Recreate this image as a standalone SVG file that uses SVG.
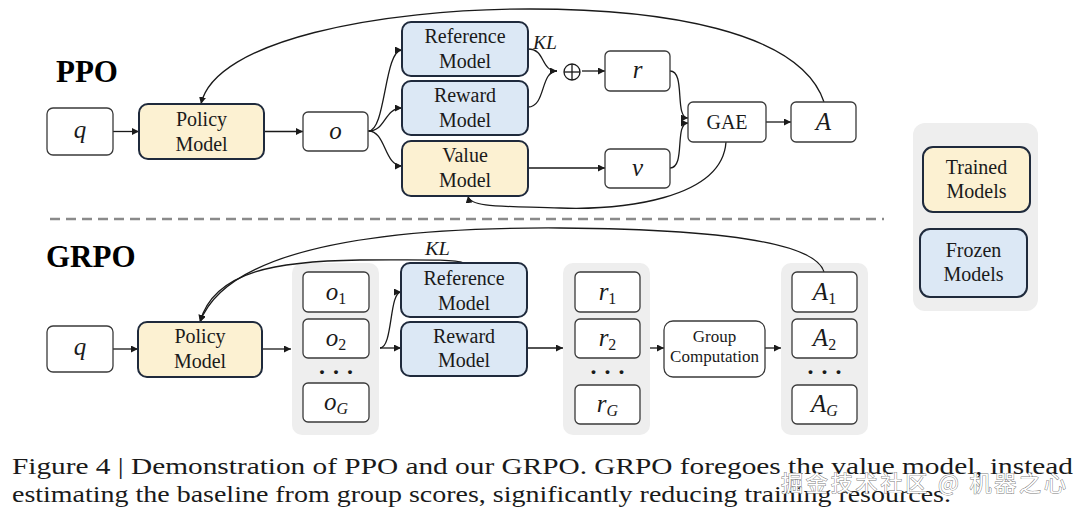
<svg xmlns="http://www.w3.org/2000/svg" width="1080" height="517" viewBox="0 0 1080 517">
<defs>
<marker id="arr" viewBox="0 0 10 10" refX="10" refY="5" markerWidth="7" markerHeight="7" orient="auto" markerUnits="userSpaceOnUse"><path d="M0,0 L10,5 L0,10 z" fill="#1a1a1a"/></marker>
<style>
.lbl{font-family:"Liberation Serif","Times New Roman",serif;font-size:20px;fill:#1a1a1a;text-anchor:middle}
.small{font-size:17px}
.math{font-family:"Liberation Serif","Times New Roman",serif;font-style:italic;font-size:25px;fill:#1a1a1a;text-anchor:middle}
.kl{font-family:"Liberation Serif","Times New Roman",serif;font-style:italic;font-size:18px;fill:#1a1a1a}
.sub{font-size:16px;font-style:normal}
.subi{font-size:16px;font-style:italic}
.dots{font-family:"Liberation Serif",serif;font-weight:bold;font-size:24px;fill:#1a1a1a;text-anchor:middle}
.trained{fill:#fcf1d2;stroke:#1f2a3c;stroke-width:2}
.frozen{fill:#dce8f5;stroke:#1f2a3c;stroke-width:2}
.plain{fill:#fff;stroke:#3a3a3a;stroke-width:1.3}
.panel{fill:#eeeeee}
.conn{fill:none;stroke:#1a1a1a;stroke-width:1.3}
.arrow{marker-end:url(#arr)}
.title{font-family:"Liberation Serif","Times New Roman",serif;font-weight:bold;font-size:31px;fill:#000}
.cap{font-family:"Liberation Serif","Times New Roman",serif;font-size:24px;fill:#1a1a1a}
.wm{font-family:"Noto Sans CJK SC","DejaVu Sans",sans-serif;font-size:22px;fill:#ffffff;stroke:#7a7a7a;stroke-width:0.9;paint-order:stroke}
</style>
</defs>
<rect x="0" y="0" width="1080" height="517" fill="#ffffff"/>

<!-- titles -->
<text class="title" x="56" y="82">PPO</text>
<text class="title" x="46" y="267">GRPO</text>

<!-- divider -->
<line x1="50" y1="219" x2="884" y2="219" stroke="#8a8a8a" stroke-width="2.6" stroke-dasharray="10 6"/>

<!-- panels -->
<g id="ppo-legend-panel"><rect class="panel" x="913" y="123" width="125" height="188" rx="12" fill="#efefef"/></g>
<g id="grpo-o-panel"><rect class="panel" x="292" y="263" width="87" height="172" rx="10"/></g>
<g id="grpo-r-panel"><rect class="panel" x="563" y="263" width="87" height="172" rx="10"/></g>
<g id="grpo-a-panel"><rect class="panel" x="781" y="263" width="87" height="172" rx="10"/></g>

<!-- connectors -->
<g id="connectors">
  <!-- PPO -->
  <path class="conn arrow" d="M113,131.5 L139,131.5"/>
  <path class="conn arrow" d="M264.5,131.5 L303,131.5"/>
  <path class="conn arrow" d="M368.5,131 C386,131 384,50 402,50"/>
  <path class="conn arrow" d="M368.5,131 C386,131 384,108 402,108"/>
  <path class="conn arrow" d="M368.5,131 C386,131 384,166 402,166"/>
  <path class="conn arrow" d="M528,49 C546,49 540,71 557,71"/>
  <path class="conn" d="M528,107 C546,107 540,71 557,71"/>
  <path class="conn arrow" d="M582,71 L605,71"/>
  <path class="conn arrow" d="M670,71 C686,71 674,118 688,118"/>
  <path class="conn arrow" d="M670,168 C686,168 674,123 688,123"/>
  <path class="conn arrow" d="M528,168 L605,168"/>
  <path class="conn arrow" d="M766,122 L791,122"/>
  <path class="conn arrow" d="M824,102 C800,30 660,9 530,9 C380,9 215,40 201,104"/>
  <path class="conn arrow" d="M726,142 C722,200 620,210 560,208 C505,206 470,208 468,196"/>
  <!-- GRPO -->
  <path class="conn arrow" d="M113,349 L138,349"/>
  <path class="conn arrow" d="M262,349 L291,349"/>
  <path class="conn arrow" d="M380,348 L401,348"/>
  <path class="conn arrow" d="M380,348 C393,348 389,292 401,292"/>
  <path class="conn arrow" d="M527,348 L563,348"/>
  <path class="conn arrow" d="M650,348 L664,348"/>
  <path class="conn arrow" d="M765,348 L781,348"/>
  <path class="conn arrow" d="M463,263 C456,259 420,260 360,260 C280,261 214,270 200,322"/>
  <path class="conn arrow" d="M824,272 C815,240 700,229 560,228 C380,227 228,248 200,322"/>
</g>

<!-- PPO nodes -->
<g id="ppo-q"><rect class="plain" x="47" y="108" width="66" height="47" rx="6"/><text class="math" x="80" y="138">q</text></g>
<g id="ppo-policy"><rect class="trained" x="139" y="104" width="125" height="55" rx="9"/><text class="lbl" x="201.5" y="126">Policy</text><text class="lbl" x="201.5" y="151">Model</text></g>
<g id="ppo-o"><rect class="plain" x="303" y="112" width="65" height="39" rx="5"/><text class="math" x="335.5" y="139">o</text></g>
<g id="ppo-reference"><rect class="frozen" x="402" y="22" width="126" height="54" rx="9"/><text class="lbl" x="465" y="43">Reference</text><text class="lbl" x="465" y="68">Model</text></g>
<g id="ppo-reward"><rect class="frozen" x="402" y="81" width="126" height="54" rx="9"/><text class="lbl" x="465" y="102">Reward</text><text class="lbl" x="465" y="127">Model</text></g>
<g id="ppo-value"><rect class="trained" x="402" y="141" width="126" height="55" rx="9"/><text class="lbl" x="465" y="162">Value</text><text class="lbl" x="465" y="187">Model</text></g>
<g id="ppo-kl"><text class="kl" x="533" y="49" textLength="24" lengthAdjust="spacingAndGlyphs">KL</text></g>
<g id="ppo-plus"><circle cx="572" cy="72" r="8" fill="#fff" stroke="#1a1a1a" stroke-width="1.3"/><line x1="564" y1="72" x2="580" y2="72" stroke="#1a1a1a" stroke-width="1.3"/><line x1="572" y1="64" x2="572" y2="80" stroke="#1a1a1a" stroke-width="1.3"/></g>
<g id="ppo-r"><rect class="plain" x="605" y="51" width="65" height="40" rx="5"/><text class="math" x="637.5" y="78">r</text></g>
<g id="ppo-v"><rect class="plain" x="605" y="149" width="65" height="39" rx="5"/><text class="math" x="637.5" y="176">v</text></g>
<g id="ppo-gae"><rect class="plain" x="688" y="102" width="78" height="40" rx="5"/><text class="lbl" x="727" y="129">GAE</text></g>
<g id="ppo-a"><rect class="plain" x="791" y="102" width="65" height="40" rx="5"/><text class="math" x="823.5" y="130">A</text></g>

<!-- legend -->
<g id="legend-trained"><rect class="trained" x="923" y="147" width="107" height="65" rx="10"/><text class="lbl" x="976.5" y="174">Trained</text><text class="lbl" x="976.5" y="198">Models</text></g>
<g id="legend-frozen"><rect class="frozen" x="920" y="229" width="107" height="68" rx="10"/><text class="lbl" x="973.5" y="257">Frozen</text><text class="lbl" x="973.5" y="281">Models</text></g>

<!-- GRPO nodes -->
<g id="grpo-q"><rect class="plain" x="47" y="326" width="66" height="46" rx="6"/><text class="math" x="80" y="355">q</text></g>
<g id="grpo-policy"><rect class="trained" x="138" y="322" width="124" height="55" rx="9"/><text class="lbl" x="200" y="343">Policy</text><text class="lbl" x="200" y="368">Model</text></g>
<g id="grpo-o1"><rect class="plain" x="303" y="272" width="66" height="40" rx="5"/><text class="math" x="336" y="300">o<tspan class="sub" dy="4">1</tspan></text></g>
<g id="grpo-o2"><rect class="plain" x="303" y="319" width="66" height="39" rx="5"/><text class="math" x="336" y="346">o<tspan class="sub" dy="4">2</tspan></text></g>
<g id="grpo-odots"><text class="dots" x="336" y="380">· · ·</text></g>
<g id="grpo-oG"><rect class="plain" x="303" y="383" width="66" height="39" rx="5"/><text class="math" x="336" y="410">o<tspan class="subi" dy="4">G</tspan></text></g>
<g id="grpo-reference"><rect class="frozen" x="401" y="263" width="126" height="54" rx="9"/><text class="lbl" x="464" y="285">Reference</text><text class="lbl" x="464" y="310">Model</text></g>
<g id="grpo-reward"><rect class="frozen" x="401" y="322" width="126" height="54" rx="9"/><text class="lbl" x="464" y="343">Reward</text><text class="lbl" x="464" y="367">Model</text></g>
<g id="grpo-kl"><text class="kl" x="425" y="255" textLength="25" lengthAdjust="spacingAndGlyphs">KL</text></g>
<g id="grpo-r1"><rect class="plain" x="575" y="272" width="65" height="40" rx="5"/><text class="math" x="607.5" y="300">r<tspan class="sub" dy="4">1</tspan></text></g>
<g id="grpo-r2"><rect class="plain" x="575" y="319" width="65" height="39" rx="5"/><text class="math" x="607.5" y="346">r<tspan class="sub" dy="4">2</tspan></text></g>
<g id="grpo-rdots"><text class="dots" x="607.5" y="380">· · ·</text></g>
<g id="grpo-rG"><rect class="plain" x="575" y="385" width="65" height="39" rx="5"/><text class="math" x="607.5" y="412">r<tspan class="subi" dy="4">G</tspan></text></g>
<g id="grpo-group"><rect class="plain" x="664" y="321" width="101" height="56" rx="9"/><text class="lbl small" x="714.5" y="342">Group</text><text class="lbl small" x="714.5" y="362">Computation</text></g>
<g id="grpo-a1"><rect class="plain" x="792" y="272" width="65" height="40" rx="5"/><text class="math" x="824.5" y="300">A<tspan class="sub" dy="4">1</tspan></text></g>
<g id="grpo-a2"><rect class="plain" x="792" y="319" width="65" height="39" rx="5"/><text class="math" x="824.5" y="346">A<tspan class="sub" dy="4">2</tspan></text></g>
<g id="grpo-adots"><text class="dots" x="824.5" y="380">· · ·</text></g>
<g id="grpo-aG"><rect class="plain" x="792" y="385" width="65" height="39" rx="5"/><text class="math" x="824.5" y="412">A<tspan class="subi" dy="4">G</tspan></text></g>

<!-- caption -->
<text class="cap" x="12" y="474" textLength="1061" lengthAdjust="spacingAndGlyphs">Figure 4 | Demonstration of PPO and our GRPO. GRPO foregoes the value model, instead</text>
<text class="cap" x="12" y="502" textLength="939" lengthAdjust="spacingAndGlyphs">estimating the baseline from group scores, significantly reducing training resources.</text>
<text class="wm" x="781" y="491" textLength="285" lengthAdjust="spacing">掘金技术社区 @ 机器之心</text>
</svg>
